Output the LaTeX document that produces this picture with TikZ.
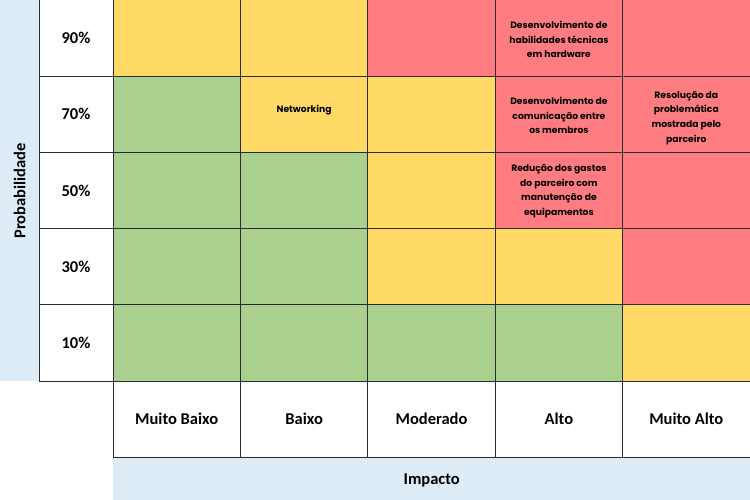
\documentclass[tikz,border=0pt]{standalone}
\usepackage{fontspec}
\setmainfont{Carlito}
\newfontfamily\cellfont{Poppins}
\usepackage{xcolor}
\usepackage{tikz}
\usetikzlibrary{positioning}
\definecolor{lowcolor}{HTML}{A9D08E}
\definecolor{midcolor}{HTML}{FFD966}
\definecolor{highcolor}{HTML}{FF7C80}
\definecolor{axiscolor}{HTML}{DDEBF7}
\definecolor{gridcolor}{HTML}{2B2B2B}

\begin{document}
\begin{tikzpicture}[
    x=1pt, y=-1pt,
    cell/.style={draw=gridcolor, line width=1pt, minimum width=127.4pt, minimum height=76.2pt, inner sep=0pt, outer sep=0pt, anchor=north west},
    low/.style={cell, fill=lowcolor},
    mid/.style={cell, fill=midcolor},
    high/.style={cell, fill=highcolor},
    head/.style={draw=gridcolor, line width=1pt, fill=white, inner sep=0pt, outer sep=0pt, anchor=north west, font=\fontsize{16.5}{19}\selectfont\bfseries},
    risk/.style={font=\cellfont\fontsize{9.2}{14.6}\selectfont\bfseries, align=center, inner sep=0pt, anchor=north}
]
    \useasboundingbox (0,0) rectangle (750,500);

    % Axis bands
    \node[fill=axiscolor, minimum width=39pt, minimum height=381pt, inner sep=0pt, anchor=north west] (probband) at (0,0) {};
    \node[fill=axiscolor, minimum width=637pt, minimum height=43pt, inner sep=0pt, anchor=north west] (impband) at (113,457) {};
    \node[font=\fontsize{16.5}{19}\selectfont\bfseries, rotate=90] at (probband.center) {Probabilidade};
    \node[font=\fontsize{16.5}{19}\selectfont\bfseries] at ([yshift=-2pt]impband.center) {Impacto};

    % Probability labels
    \node[head, minimum width=74pt, minimum height=76.2pt] (p90) at (39,0) {90\%};
    \node[head, minimum width=74pt, minimum height=76.2pt] (p70) at (39,76.2) {70\%};
    \node[head, minimum width=74pt, minimum height=76.2pt] (p50) at (39,152.4) {50\%};
    \node[head, minimum width=74pt, minimum height=76.2pt] (p30) at (39,228.6) {30\%};
    \node[head, minimum width=74pt, minimum height=76.2pt] (p10) at (39,304.8) {10\%};

    % Impact labels
    \node[head, minimum width=127.4pt, minimum height=76pt] (muitobaixo) at (113,381) {Muito Baixo};
    \node[head, minimum width=127.4pt, minimum height=76pt] (baixo) at (240.4,381) {Baixo};
    \node[head, minimum width=127.4pt, minimum height=76pt] (moderado) at (367.8,381) {Moderado};
    \node[head, minimum width=127.4pt, minimum height=76pt] (alto) at (495.2,381) {Alto};
    \node[head, minimum width=127.4pt, minimum height=76pt] (muitoalto) at (622.6,381) {Muito Alto};

    % Matrix, row 90%
    \node[mid] (r1c1) at (113,0) {};
    \node[mid] (r1c2) at (240.4,0) {};
    \node[high] (r1c3) at (367.8,0) {};
    \node[high] (r1c4) at (495.2,0) {};
    \node[high] (r1c5) at (622.6,0) {};
    % row 70%
    \node[low] (r2c1) at (113,76.2) {};
    \node[mid] (r2c2) at (240.4,76.2) {};
    \node[mid] (r2c3) at (367.8,76.2) {};
    \node[high] (r2c4) at (495.2,76.2) {};
    \node[high] (r2c5) at (622.6,76.2) {};
    % row 50%
    \node[low] (r3c1) at (113,152.4) {};
    \node[low] (r3c2) at (240.4,152.4) {};
    \node[mid] (r3c3) at (367.8,152.4) {};
    \node[high] (r3c4) at (495.2,152.4) {};
    \node[high] (r3c5) at (622.6,152.4) {};
    % row 30%
    \node[low] (r4c1) at (113,228.6) {};
    \node[low] (r4c2) at (240.4,228.6) {};
    \node[mid] (r4c3) at (367.8,228.6) {};
    \node[mid] (r4c4) at (495.2,228.6) {};
    \node[high] (r4c5) at (622.6,228.6) {};
    % row 10%
    \node[low] (r5c1) at (113,304.8) {};
    \node[low] (r5c2) at (240.4,304.8) {};
    \node[low] (r5c3) at (367.8,304.8) {};
    \node[low] (r5c4) at (495.2,304.8) {};
    \node[mid] (r5c5) at (622.6,304.8) {};

    % Risks
    \node[risk, below=29pt of r2c2.north] (networking) {Networking};
    \node[risk, below=21pt of r1c4.north] (hardware) {Desenvolvimento de\\habilidades técnicas\\em hardware};
    \node[risk, below=21pt of r2c4.north] (comunicacao) {Desenvolvimento de\\comunicação entre\\os membros};
    \node[risk, below=15pt of r2c5.north] (problematica) {Resolução da\\problemática\\mostrada pelo\\parceiro};
    \node[risk, below=12pt of r3c4.north] (gastos) {Redução dos gastos\\do parceiro com\\manutenção de\\equipamentos};
\end{tikzpicture}
\end{document}
